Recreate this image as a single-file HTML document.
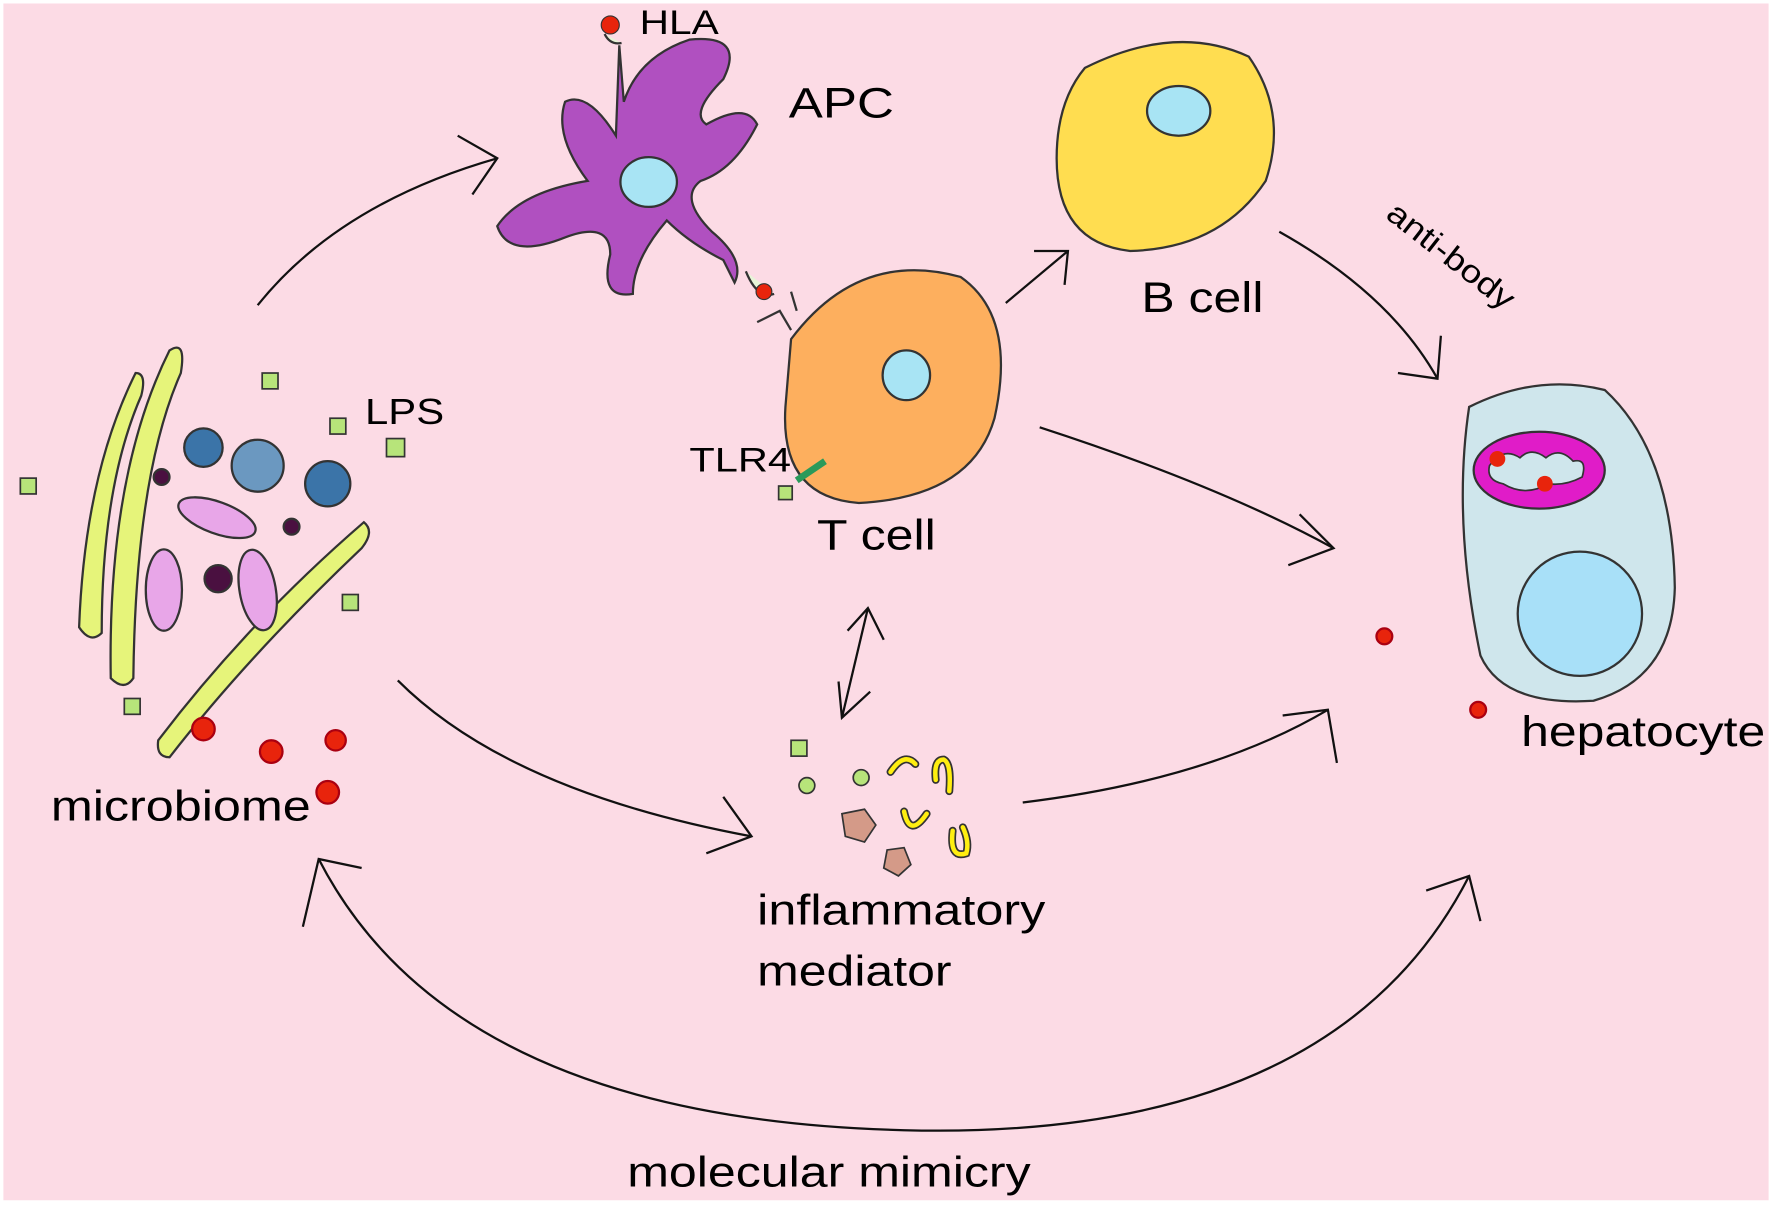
<!DOCTYPE html>
<html><head><meta charset="utf-8"><style>
html,body{margin:0;padding:0;background:#fff;}
svg{display:block;}
text{font-family:"Liberation Sans",sans-serif;fill:#000;}
</style></head><body>
<svg width="1772" height="1206" viewBox="0 0 1568 1067" xmlns="http://www.w3.org/2000/svg">
<rect x="3" y="3" width="1562" height="1059" fill="#fcdbe5"/>
<g fill="none" stroke="#111" stroke-width="2">
<path d="M228 270 Q300 180 440 140"/><path d="M405 120 L440 140 L418 172"/>
<path d="M352 602 Q450 700 665 740"/><path d="M640 705 L665 740 L625 755"/>
<path d="M890 268 L945 222"/><path d="M915 222 L945 222 L942 252"/>
<path d="M1132 205 Q1230 260 1272 335"/><path d="M1237 330 L1272 335 L1275 297"/>
<path d="M920 378 Q1080 430 1180 485"/><path d="M1150 455 L1180 485 L1140 500"/>
<path d="M905 710 Q1070 690 1175 628"/><path d="M1135 633 L1175 628 L1183 675"/>
<path d="M745 635 L768 538"/><path d="M742 603 L745 635 L770 612"/><path d="M750 558 L768 538 L782 566"/>
<path d="M282 760 Q400 990 800 1000 Q1180 1010 1300 775"/>
<path d="M268 820 L282 760 L320 768"/><path d="M1262 788 L1300 775 L1310 815"/>
</g>
<g stroke="#333" stroke-width="2">
<path d="M150 310 Q165 300 160 330 Q120 420 118 600 Q110 612 98 600 Q95 420 150 310Z" fill="#e6f47a"/>
<path d="M120 330 Q130 330 125 350 Q90 430 90 560 Q80 570 70 555 Q75 420 120 330Z" fill="#e6f47a"/>
<path d="M322 462 Q332 470 320 485 Q220 580 150 670 Q138 670 140 655 Q220 550 322 462Z" fill="#e6f47a"/>
<circle cx="180" cy="396" r="17" fill="#3b74a8"/><circle cx="228" cy="412" r="23" fill="#6b98c0"/>
<circle cx="290" cy="428" r="20" fill="#3b74a8"/>
<ellipse cx="192" cy="458" rx="36" ry="14" transform="rotate(20 192 458)" fill="#e8a6e8"/>
<ellipse cx="145" cy="522" rx="16" ry="36" fill="#e8a6e8"/>
<ellipse cx="228" cy="522" rx="16" ry="36" transform="rotate(-10 228 522)" fill="#e8a6e8"/>
<circle cx="143" cy="422" r="7" fill="#4a1040"/><circle cx="258" cy="466" r="7" fill="#4a1040"/><circle cx="193" cy="512" r="12" fill="#4a1040"/>
<g fill="#b7e47a" stroke-width="1.5">
<rect x="232" y="330" width="14" height="14"/><rect x="292" y="370" width="14" height="14"/><rect x="342" y="388" width="16" height="16"/>
<rect x="18" y="423" width="14" height="14"/><rect x="303" y="526" width="14" height="14"/><rect x="110" y="618" width="14" height="14"/>
<rect x="700" y="655" width="14" height="14"/><rect x="689" y="430" width="12" height="12"/>
</g>
<g fill="#e8240c" stroke="#a01"><circle cx="180" cy="645" r="10"/><circle cx="240" cy="665" r="10"/><circle cx="297" cy="655" r="9"/><circle cx="290" cy="701" r="10"/>
<circle cx="1225" cy="563" r="7"/><circle cx="1308" cy="628" r="7"/></g>
</g>
<path d="M548 40 L552 90 Q565 50 610 35 Q660 30 640 70 Q610 100 625 110 Q660 90 670 110 Q650 150 620 160 Q600 175 630 205 Q660 230 650 250 L640 230 Q610 215 590 195 Q560 230 560 260 Q530 265 540 225 Q540 195 500 210 Q450 230 440 200 Q460 170 520 160 Q490 120 500 90 Q520 80 545 120 Z" fill="#b050c0" stroke="#333" stroke-width="2"/>
<ellipse cx="574" cy="161" rx="25" ry="22" fill="#a8e4f4" stroke="#333" stroke-width="2"/>
<circle cx="540" cy="22" r="8" fill="#e8240c" stroke="#333"/>
<path d="M535 30 Q540 40 550 38" stroke="#333" fill="#e8f4d8" stroke-width="2"/>
<path d="M660 240 Q670 265 685 260" stroke="#333" fill="#e8f4d8" stroke-width="2"/>
<circle cx="676" cy="258" r="7" fill="#e8240c" stroke="#333"/>
<path d="M670 285 L690 275 L700 292 M700 258 L705 275" stroke="#333" fill="none" stroke-width="2"/>
<path d="M700 300 Q760 220 850 245 Q900 280 880 370 Q860 440 760 445 Q690 440 695 360 Z" fill="#fdaf5e" stroke="#333" stroke-width="2"/>
<ellipse cx="802" cy="332" rx="21" ry="22" fill="#a8e4f4" stroke="#333" stroke-width="2"/>
<path d="M705 425 L730 408" stroke="#2a9a5a" stroke-width="6"/>
<path d="M960 60 Q1040 20 1105 50 Q1140 100 1120 160 Q1080 220 1000 222 Q935 215 935 140 Q935 90 960 60Z" fill="#ffdd50" stroke="#333" stroke-width="2"/>
<ellipse cx="1043" cy="98" rx="28" ry="22" fill="#a8e4f4" stroke="#333" stroke-width="2"/>
<path d="M1300 360 Q1360 330 1420 345 Q1480 400 1482 520 Q1480 600 1410 620 Q1330 625 1310 580 Q1285 460 1300 360Z" fill="#cfe6ec" stroke="#333" stroke-width="2"/>
<circle cx="1398" cy="543" r="55" fill="#a8e0f8" stroke="#333" stroke-width="2"/>
<ellipse cx="1362" cy="416" rx="58" ry="34" fill="#e01cc8" stroke="#333" stroke-width="2"/>
<path d="M1318 412 Q1330 395 1345 405 Q1355 395 1368 405 Q1380 395 1392 408 Q1405 405 1400 422 Q1385 430 1370 428 Q1350 440 1330 428 Q1315 425 1318 412Z" fill="#cfe6ec" stroke="#333" stroke-width="1.5"/>
<circle cx="1325" cy="406" r="7" fill="#e8240c"/><circle cx="1367" cy="428" r="7" fill="#e8240c"/>
<g stroke="#333" stroke-width="1.5">
<circle cx="714" cy="695" r="7" fill="#b7e47a"/><circle cx="762" cy="688" r="7" fill="#b7e47a"/>
<path d="M745 720 L765 716 L775 730 L765 745 L748 740Z" fill="#d49a88"/>
<path d="M785 752 L800 750 L806 765 L795 775 L782 768Z" fill="#d49a88"/>
</g>
<g fill="none" stroke="#333" stroke-width="7" stroke-linecap="round"><path d="M788 683 Q800 665 810 676"/><path d="M828 690 Q826 672 835 672 Q842 675 840 700"/><path d="M800 718 Q805 742 820 720"/><path d="M843 735 Q840 760 855 755 Q858 745 852 732"/></g>
<g fill="none" stroke="#ffee10" stroke-width="4" stroke-linecap="round"><path d="M788 683 Q800 665 810 676"/><path d="M828 690 Q826 672 835 672 Q842 675 840 700"/><path d="M800 718 Q805 742 820 720"/><path d="M843 735 Q840 760 855 755 Q858 745 852 732"/></g>
<g lengthAdjust="spacingAndGlyphs">
<text x="566" y="30" font-size="30" textLength="70" lengthAdjust="spacingAndGlyphs">HLA</text>
<text x="698" y="104" font-size="38" textLength="93" lengthAdjust="spacingAndGlyphs">APC</text>
<text x="323" y="375" font-size="32" textLength="70" lengthAdjust="spacingAndGlyphs">LPS</text>
<text x="610" y="417" font-size="30" textLength="90" lengthAdjust="spacingAndGlyphs">TLR4</text>
<text x="723" y="486" font-size="38" textLength="105" lengthAdjust="spacingAndGlyphs">T cell</text>
<text x="1010" y="276" font-size="38" textLength="108" lengthAdjust="spacingAndGlyphs">B cell</text>
<text x="1225" y="192" font-size="28" transform="rotate(38 1225 192)" textLength="135" lengthAdjust="spacingAndGlyphs">anti-body</text>
<text x="1346" y="660" font-size="38" textLength="216" lengthAdjust="spacingAndGlyphs">hepatocyte</text>
<text x="45" y="726" font-size="38" textLength="230" lengthAdjust="spacingAndGlyphs">microbiome</text>
<text x="670" y="818" font-size="38" textLength="255" lengthAdjust="spacingAndGlyphs">inflammatory</text>
<text x="670" y="872" font-size="38" textLength="172" lengthAdjust="spacingAndGlyphs">mediator</text>
<text x="555" y="1050" font-size="38" textLength="357" lengthAdjust="spacingAndGlyphs">molecular mimicry</text>
</g>
</svg>
</body></html>
